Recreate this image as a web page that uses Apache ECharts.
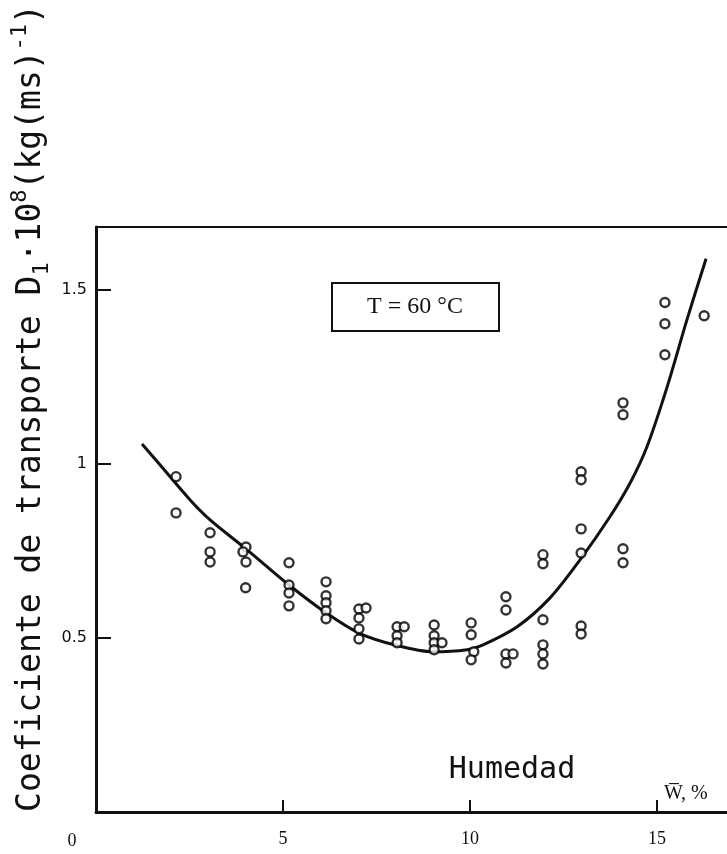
<!DOCTYPE html>
<html>
<head>
<meta charset="utf-8">
<script src="https://cdn.jsdelivr.net/npm/echarts@6/dist/echarts.min.js"></script>
<style>
  html, body { margin: 0; padding: 0; background: #fff; }
  #Js_chart { width: 727px; height: 854px; }
</style>
</head>
<body>
<div id="Js_chart"></div>
<script>
// medidas (humedad W %, coeficiente D1*10^8)
var pointW = [2.14, 2.14,
  3.05, 3.05, 3.05,
  4.01, 3.93, 4.01, 4.0,
  5.16, 5.16, 5.16, 5.16,
  6.15, 6.15, 6.15, 6.15, 6.15,
  7.03, 7.22, 7.03, 7.03, 7.03,
  8.05, 8.24, 8.05, 8.05,
  9.04, 9.04, 9.04, 9.25, 9.04,
  10.03, 10.03, 10.1, 10.03,
  10.96, 10.96, 10.96, 11.15, 10.96,
  11.95, 11.95, 11.95, 11.95, 11.95, 11.95,
  12.97, 12.97, 12.97, 12.97, 12.97, 12.97,
  14.09, 14.09, 14.09, 14.09,
  15.21, 15.21, 15.21,
  16.26]
var pointD = [0.963, 0.859,
  0.802, 0.747, 0.718,
  0.761, 0.747, 0.718, 0.644,
  0.716, 0.652, 0.629, 0.592,
  0.661, 0.621, 0.601, 0.578, 0.555,
  0.583, 0.586, 0.557, 0.526, 0.497,
  0.532, 0.532, 0.506, 0.486,
  0.537, 0.506, 0.486, 0.486, 0.466,
  0.543, 0.509, 0.460, 0.437,
  0.618, 0.580, 0.454, 0.454, 0.428,
  0.739, 0.713, 0.552, 0.480, 0.454, 0.425,
  0.977, 0.954, 0.813, 0.744, 0.534, 0.511,
  1.175, 1.141, 0.756, 0.716,
  1.463, 1.402, 1.313,
  1.425]

// curva ajustada
var curveW = [1.23, 1.71, 2.51, 3.05, 4.04, 5.16, 6.15, 7.03, 8.05, 9.01, 9.92, 10.35, 11.26, 12.14, 12.94, 13.74, 14.28, 14.73, 15.27, 15.8, 16.31]
var curveD = [1.057, 0.997, 0.897, 0.839, 0.753, 0.652, 0.572, 0.514, 0.478, 0.460, 0.466, 0.480, 0.532, 0.615, 0.724, 0.848, 0.945, 1.049, 1.221, 1.414, 1.589]

var xTicks = [0, 5, 10, 15]
var yTicks = [0.5, 1, 1.5]

var ink = '#111'
var myChart = echarts.init(document.getElementById('Js_chart'))

var puntos = []
for (var i = 0; i < pointW.length; i++) {
  puntos.push([pointW[i], pointD[i]])
}
var curva = []
for (var j = 0; j < curveW.length; j++) {
  curva.push([curveW[j], curveD[j]])
}

var option = {
  animation: false,
  backgroundColor: '#fff',
  grid: { left: 96, right: 0, top: 227, bottom: 42 },
  xAxis: [{
    type: 'value',
    min: 0, max: 16.87, interval: 5,
    axisLine: { show: true, lineStyle: { color: ink, width: 3 } },
    axisTick: { show: true, inside: true, length: 12, lineStyle: { color: ink, width: 2 } },
    splitLine: { show: false },
    axisLabel: {
      margin: 18, color: ink, fontFamily: 'Liberation Serif', fontSize: 18,
      showMaxLabel: false,
      formatter: function (v) { return xTicks.indexOf(v) > 0 ? String(v) : '' }
    }
  }, {
    type: 'value', position: 'top',
    min: 0, max: 16.87,
    axisLine: { show: true, lineStyle: { color: ink, width: 2 } },
    axisTick: { show: false }, axisLabel: { show: false }, splitLine: { show: false }
  }],
  yAxis: {
    type: 'value',
    min: 0, max: 1.68, interval: 0.5,
    axisLine: { show: true, lineStyle: { color: ink, width: 3 } },
    axisTick: { show: true, inside: true, length: 15, lineStyle: { color: ink, width: 2 } },
    splitLine: { show: false },
    axisLabel: {
      margin: 9, color: ink, fontFamily: 'DejaVu Sans', fontSize: 16,
      showMaxLabel: false,
      formatter: function (v) { return yTicks.indexOf(v) >= 0 ? String(v) : '' }
    }
  },
  series: [{
    name: 'curva',
    type: 'line',
    data: curva,
    smooth: 0.3,
    showSymbol: false,
    lineStyle: { color: ink, width: 3 },
    z: 2
  }, {
    name: 'medidas',
    type: 'scatter',
    data: puntos,
    symbol: 'circle',
    symbolSize: 9,
    itemStyle: { color: '#fff', borderColor: '#000', borderWidth: 2.4 },
    z: 3
  }],
  graphic: [{
    type: 'text',
    x: 31, y: 408,
    rotation: Math.PI / 2,
    style: {
      text: 'Coeficiente de transporte D{sub|1}·10{sup|8}(kg(ms){sup|-1})',
      fill: ink,
      fontFamily: 'DejaVu Sans Mono',
      fontSize: 33,
      lineHeight: 44,
      align: 'center',
      verticalAlign: 'middle',
      rich: {
        sub: { fontFamily: 'DejaVu Sans Mono', fontSize: 22, lineHeight: 25, verticalAlign: 'bottom', fill: ink },
        sup: { fontFamily: 'DejaVu Sans Mono', fontSize: 22, lineHeight: 25, verticalAlign: 'top', fill: ink }
      }
    }
  }, {
    type: 'text',
    x: 512, y: 770,
    style: {
      text: 'Humedad', fill: ink,
      fontFamily: 'DejaVu Sans Mono', fontSize: 30,
      align: 'center', verticalAlign: 'middle'
    }
  }, {
    type: 'text',
    x: 664, y: 794,
    style: {
      text: 'W\u0305, %', fill: ink,
      fontFamily: 'Liberation Serif', fontSize: 20,
      align: 'left', verticalAlign: 'middle'
    }
  }, {
    type: 'text',
    x: 72, y: 841,
    style: {
      text: '0', fill: ink,
      fontFamily: 'Liberation Serif', fontSize: 18,
      align: 'center', verticalAlign: 'middle'
    }
  }, {
    type: 'rect',
    shape: { x: 332, y: 283, width: 167, height: 48 },
    style: { fill: 'none', stroke: ink, lineWidth: 2 }
  }, {
    type: 'text',
    x: 415, y: 307,
    style: {
      text: 'T = 60 °C', fill: ink,
      fontFamily: 'Liberation Serif', fontSize: 24,
      align: 'center', verticalAlign: 'middle'
    }
  }]
}

myChart.setOption(option)
</script>
</body>
</html>
